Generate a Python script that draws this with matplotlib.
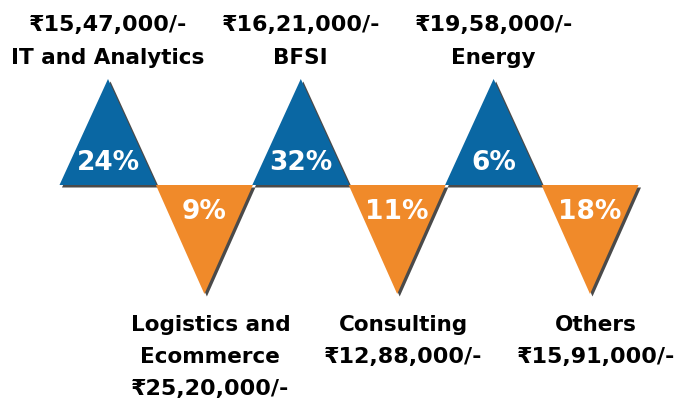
import matplotlib.pyplot as plt
from matplotlib.patches import Polygon

# data
categories = ['IT and Analytics', 'Logistics and\nEcommerce', 'BFSI', 'Consulting', 'Energy', 'Others']
shares = [24, 9, 32, 11, 6, 18]
salaries = ['₹15,47,000/-', '₹25,20,000/-', '₹16,21,000/-', '₹12,88,000/-', '₹19,58,000/-', '₹15,91,000/-']

blue = '#0A67A3'
orange = '#F08A2A'
shadow = '#4a4a4a'

plt.rcParams['font.family'] = ['DejaVu Sans']
fig = plt.figure(figsize=(6.83, 4.01), dpi=100)
ax = fig.add_axes([0, 0, 1, 1])
ax.set_xlim(0, 683)
ax.set_ylim(401, 0)
ax.axis('off')

x0, step, half = 108, 96.4, 48.5
base_y, top_y, bot_y = 185, 79, 294

for i, (cat, pct, sal) in enumerate(zip(categories, shares, salaries)):
    cx = x0 + step * i
    up = i % 2 == 0
    if up:
        pts = [(cx - half, base_y), (cx, top_y), (cx + half, base_y)]
        col = blue
    else:
        pts = [(cx - half, base_y), (cx, bot_y), (cx + half, base_y)]
        col = orange
    sh = [(px + 2.5, py + 2.5) for px, py in pts]
    ax.add_patch(Polygon(sh, closed=True, fc=shadow, ec='none', zorder=1))
    ax.add_patch(Polygon(pts, closed=True, fc=col, ec='none', zorder=2))

    ax.text(cx, 163 if up else 212, f'{pct}%', color='white', fontsize=19,
            fontweight='bold', ha='center', va='center', zorder=3)

    if up:
        lines = [(sal, 16), (cat, 15.5)]
        ys = [25, 58]
        lx = cx
    else:
        lines = [(s, 15.5) for s in cat.split('\n')] + [(sal, 16)]
        ys = [325 + 32 * k for k in range(len(lines))]
        lx = cx + 6
    for (txt, fs), y in zip(lines, ys):
        ax.text(lx, y, txt, fontsize=fs, fontweight='bold', ha='center', va='center')

fig.savefig('out.png', dpi=100)
